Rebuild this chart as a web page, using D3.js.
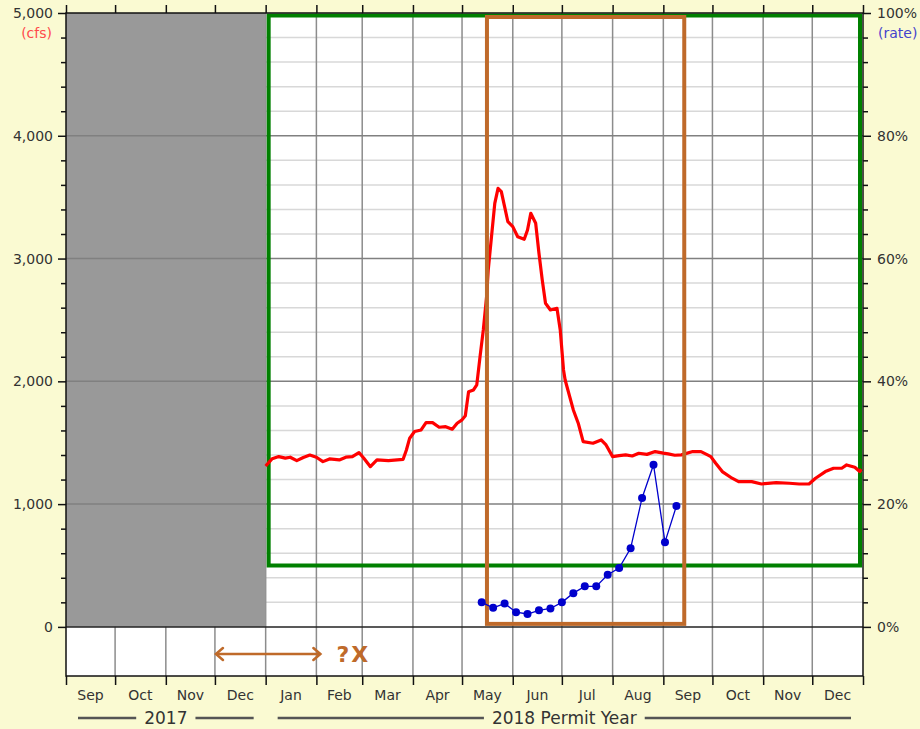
<!DOCTYPE html>
<html>
<head>
    <meta charset="utf-8">
    <title>Flow and rate, 2018 permit year</title>
    <script src="https://d3js.org/d3.v7.min.js"></script>
    <style>
        body { margin:0; background:#fafad2; }
        text { font-family:"DejaVu Sans", sans-serif; }
    </style>
</head>
<body>
    <svg id="chart" width="920" height="729"></svg>

    <script>
        // daily flow (cfs)
        var flowData = [
            ["2018-01-01",1310],["2018-01-05",1370],["2018-01-09",1387],["2018-01-13",1375],["2018-01-16",1382],["2018-01-20",1354],
            ["2018-01-24",1380],["2018-01-28",1400],["2018-02-01",1382],["2018-02-05",1346],["2018-02-09",1368],
            ["2018-02-15",1360],["2018-02-19",1382],["2018-02-23",1387],["2018-02-27",1420],
            ["2018-03-02",1374],["2018-03-06",1305],["2018-03-10",1360],["2018-03-17",1354],
            ["2018-03-26",1365],["2018-03-28",1441],["2018-03-30",1537],["2018-04-02",1591],
            ["2018-04-06",1604],["2018-04-09",1664],["2018-04-13",1664],["2018-04-17",1626],
            ["2018-04-21",1631],["2018-04-25",1610],["2018-04-28",1659],["2018-05-01",1686],
            ["2018-05-03",1720],["2018-05-05",1916],["2018-05-08",1930],["2018-05-10",1971],
            ["2018-05-12",2201],["2018-05-14",2419],["2018-05-16",2690],["2018-05-17",2907],
            ["2018-05-19",3178],["2018-05-21",3450],["2018-05-23",3572],["2018-05-25",3545],
            ["2018-05-27",3423],["2018-05-29",3300],["2018-06-01",3260],["2018-06-04",3178],
            ["2018-06-08",3157],["2018-06-10",3233],["2018-06-12",3369],["2018-06-15",3287],
            ["2018-06-17",3043],["2018-06-19",2826],["2018-06-21",2636],["2018-06-24",2581],
            ["2018-06-28",2595],["2018-06-30",2419],["2018-07-02",2093],["2018-07-03",2011],
            ["2018-07-08",1767],["2018-07-11",1659],["2018-07-14",1509],["2018-07-20",1496],
            ["2018-07-25",1523],["2018-07-28",1482],["2018-08-01",1387],["2018-08-05",1395],["2018-08-09",1401],
            ["2018-08-13",1392],["2018-08-17",1414],["2018-08-22",1405],["2018-08-27",1428],["2018-09-01",1415],["2018-09-04",1409],
            ["2018-09-08",1398],["2018-09-12",1401],["2018-09-19",1428],["2018-09-24",1428],["2018-09-28",1401],["2018-09-30",1387],
            ["2018-10-03",1333],["2018-10-07",1265],["2018-10-13",1211],["2018-10-17",1183],
            ["2018-10-25",1183],["2018-10-31",1164],["2018-11-09",1175],["2018-11-17",1170],
            ["2018-11-23",1164],["2018-11-29",1164],["2018-12-03",1211],["2018-12-09",1265],
            ["2018-12-14",1292],["2018-12-19",1292],["2018-12-22",1319],["2018-12-27",1300],
            ["2018-12-30",1265],["2018-12-31",1284]
        ];

        // weekly rate (%)
        var rateDates = ["2018-05-13","2018-05-20","2018-05-27","2018-06-03","2018-06-10","2018-06-17",
            "2018-06-24","2018-07-01","2018-07-08","2018-07-15","2018-07-22","2018-07-29",
            "2018-08-05","2018-08-12","2018-08-19","2018-08-26","2018-09-02","2018-09-09"];
        var rateValues = [4.0, 3.1, 3.8, 2.4, 2.1, 2.7, 3.0, 4.0, 5.5, 6.6, 6.6, 8.5, 9.6, 12.8, 21.0, 26.4, 13.8, 19.7];

        var cfsTicks = [0, 1000, 2000, 3000, 4000, 5000];
        var rateTicks = [0, 20, 40, 60, 80, 100];
        var yearLabels = [
            {label:"2017", start:"2017-09-01", end:"2018-01-01"},
            {label:"2018 Permit Year", start:"2018-01-01", end:"2019-01-01"}
        ];

        var parse = d3.utcParse("%Y-%m-%d");
        var svg = d3.select("#chart");
        var plotL = 66, plotR = 863, plotT = 13, plotB = 676;

        var x = d3.scaleUtc().domain([parse("2017-09-01"), parse("2019-01-01")]).range([plotL, plotR]);
        var y = d3.scaleLinear().domain([-400, 5000]).range([plotB, plotT]);
        var yRate = d3.scaleLinear().domain([-8, 100]).range([plotB, plotT]);

        var months = d3.utcMonth.range(parse("2017-09-01"), parse("2019-01-01"));
        var orange = "#bf6a2a";

        // plot background
        svg.append("rect").attr("x", plotL).attr("y", plotT)
            .attr("width", plotR - plotL).attr("height", plotB - plotT).attr("fill", "white");

        // minor horizontal grid
        svg.selectAll("line.minor").data(d3.range(200, 5000, 200).filter(function(d){ return d % 1000 != 0; }))
            .enter().append("line").attr("class", "minor")
            .attr("x1", plotL).attr("x2", plotR)
            .attr("y1", function(d){ return y(d); }).attr("y2", function(d){ return y(d); })
            .attr("stroke", "#d8d8d8").attr("stroke-width", 1.5);

        // vertical grid at month starts
        svg.selectAll("line.vgrid").data(months.slice(1))
            .enter().append("line").attr("class", "vgrid")
            .attr("x1", function(d){ return x(d); }).attr("x2", function(d){ return x(d); })
            .attr("y1", plotT).attr("y2", plotB)
            .attr("stroke", "#8c8c8c").attr("stroke-width", 1.5);

        // no-data block before the permit year
        svg.append("rect")
            .attr("x", x(parse("2017-09-01"))).attr("y", y(5000))
            .attr("width", x(parse("2018-01-01")) - x(parse("2017-09-01")))
            .attr("height", y(0) - y(5000))
            .attr("fill", "#999999");

        // major horizontal grid
        svg.selectAll("line.major").data([1000, 2000, 3000, 4000])
            .enter().append("line").attr("class", "major")
            .attr("x1", plotL).attr("x2", plotR)
            .attr("y1", function(d){ return y(d); }).attr("y2", function(d){ return y(d); })
            .attr("stroke", "#808080").attr("stroke-width", 1.5);

        svg.append("line").attr("x1", plotL).attr("x2", plotR)
            .attr("y1", y(0)).attr("y2", y(0))
            .attr("stroke", "#222").attr("stroke-width", 1.5);

        // green permit box
        var gx0 = x(parse("2018-01-01")) + 3, gx1 = x(parse("2019-01-01")) - 3;
        svg.append("rect")
            .attr("x", gx0).attr("y", y(5000) + 2.5)
            .attr("width", gx1 - gx0).attr("height", y(500) - y(5000) - 2.5)
            .attr("fill", "none").attr("stroke", "#008000").attr("stroke-width", 4);

        // flow line
        var line = d3.line()
            .x(function(d){ return x(parse(d[0])); })
            .y(function(d){ return y(d[1]); });
        svg.append("path").datum(flowData)
            .attr("d", line)
            .attr("fill", "none").attr("stroke", "red").attr("stroke-width", 3.2)
            .attr("stroke-linejoin", "round");

        // orange window
        var ox0 = x(parse("2018-05-15")) + 2, ox1 = x(parse("2018-09-15")) - 2;
        svg.append("rect")
            .attr("x", ox0).attr("y", y(5000) + 4)
            .attr("width", ox1 - ox0).attr("height", y(0) - y(5000) - 7)
            .attr("fill", "none").attr("stroke", orange).attr("stroke-width", 4);

        // rate series
        var rateData = rateDates.map(function(d, i){ return [parse(d), rateValues[i]]; });
        svg.append("path").datum(rateData)
            .attr("d", d3.line().x(function(d){ return x(d[0]); }).y(function(d){ return yRate(d[1]); }))
            .attr("fill", "none").attr("stroke", "#0000cc").attr("stroke-width", 1.3);
        svg.selectAll("circle.rate").data(rateData)
            .enter().append("circle").attr("class", "rate")
            .attr("cx", function(d){ return x(d[0]); })
            .attr("cy", function(d){ return yRate(d[1]); })
            .attr("r", 4).attr("fill", "#0000cc");

        // frame
        svg.append("rect").attr("x", plotL).attr("y", plotT)
            .attr("width", plotR - plotL).attr("height", plotB - plotT)
            .attr("fill", "none").attr("stroke", "#111").attr("stroke-width", 1.5);

        // axes
        function styleAxis(g) {
            g.select(".domain").remove();
            g.selectAll(".tick line").attr("stroke", "#111").attr("stroke-width", 1.5);
            g.selectAll(".tick text").attr("fill", "#333").style("font-size", "14px")
                .style("font-family", "DejaVu Sans, sans-serif");
        }
        var minorCfs = d3.range(0, 5001, 200).filter(function(d){ return d % 1000 != 0; });

        svg.append("g").attr("transform", "translate(" + plotL + ",0)")
            .call(d3.axisLeft(y).tickValues(cfsTicks).tickFormat(d3.format(",")).tickSize(8).tickPadding(5))
            .call(styleAxis);
        svg.append("g").attr("transform", "translate(" + plotL + ",0)")
            .call(d3.axisLeft(y).tickValues(minorCfs).tickFormat("").tickSize(5))
            .call(styleAxis);
        svg.append("g").attr("transform", "translate(" + plotR + ",0)")
            .call(d3.axisRight(yRate).tickValues(rateTicks).tickFormat(function(d){ return d + "%"; }).tickSize(8).tickPadding(6))
            .call(styleAxis);
        svg.append("g").attr("transform", "translate(" + plotR + ",0)")
            .call(d3.axisRight(y).tickValues(minorCfs).tickFormat("").tickSize(5))
            .call(styleAxis);

        svg.append("g").attr("transform", "translate(0," + plotT + ")")
            .call(d3.axisTop(x).tickValues(months.concat([parse("2019-01-01")])).tickFormat("").tickSize(8))
            .call(styleAxis);
        svg.append("g").attr("transform", "translate(0," + plotB + ")")
            .call(d3.axisBottom(x).tickValues(months.concat([parse("2019-01-01")])).tickFormat("").tickSize(9))
            .call(styleAxis);

        // month labels
        svg.selectAll("text.month").data(months)
            .enter().append("text").attr("class", "month")
            .attr("x", function(d){ return (x(d) + x(d3.utcMonth.offset(d, 1))) / 2; })
            .attr("y", 700)
            .attr("text-anchor", "middle")
            .style("font-size", "14px").attr("fill", "#333")
            .text(d3.utcFormat("%b"));

        // year labels with rules
        yearLabels.forEach(function(yl){
            var x0 = x(parse(yl.start)) + 12, x1 = x(parse(yl.end)) - 12, cx = (x(parse(yl.start)) + x(parse(yl.end))) / 2;
            var t = svg.append("text").attr("x", cx).attr("y", 724)
                .attr("text-anchor", "middle").style("font-size", "17px").attr("fill", "#333")
                .text(yl.label);
            var w = t.node().getComputedTextLength() / 2 + 8;
            svg.append("line").attr("x1", x0).attr("x2", cx - w).attr("y1", 718).attr("y2", 718)
                .attr("stroke", "#555").attr("stroke-width", 2.5);
            svg.append("line").attr("x1", cx + w).attr("x2", x1).attr("y1", 718).attr("y2", 718)
                .attr("stroke", "#555").attr("stroke-width", 2.5);
        });

        // unit labels
        svg.append("text").attr("x", 52).attr("y", 38).attr("text-anchor", "end")
            .style("font-size", "14px").attr("fill", "#ff4a4a").text("(cfs)");
        svg.append("text").attr("x", 878).attr("y", 38)
            .style("font-size", "14px").attr("fill", "#4444cc").text("(rate)");

        // arrow and "?X"
        var ay = 654, ax0 = x(parse("2017-12-01")) + 1, ax1 = x(parse("2018-02-01")) + 4;
        svg.append("line").attr("x1", ax0).attr("x2", ax1).attr("y1", ay).attr("y2", ay)
            .attr("stroke", orange).attr("stroke-width", 2.5);
        svg.append("path")
            .attr("d", "M" + (ax0 + 7) + "," + (ay - 6) + "L" + ax0 + "," + ay + "L" + (ax0 + 7) + "," + (ay + 6) +
                "M" + (ax1 - 7) + "," + (ay - 6) + "L" + ax1 + "," + ay + "L" + (ax1 - 7) + "," + (ay + 6))
            .attr("fill", "none").attr("stroke", orange).attr("stroke-width", 2.5).attr("stroke-linecap", "round");
        svg.append("text").attr("x", ax1 + 16).attr("y", 662)
            .style("font-size", "22px").style("font-weight", "bold").style("letter-spacing", "2px")
            .attr("fill", orange).text("?X");
    </script>
</body>
</html>
